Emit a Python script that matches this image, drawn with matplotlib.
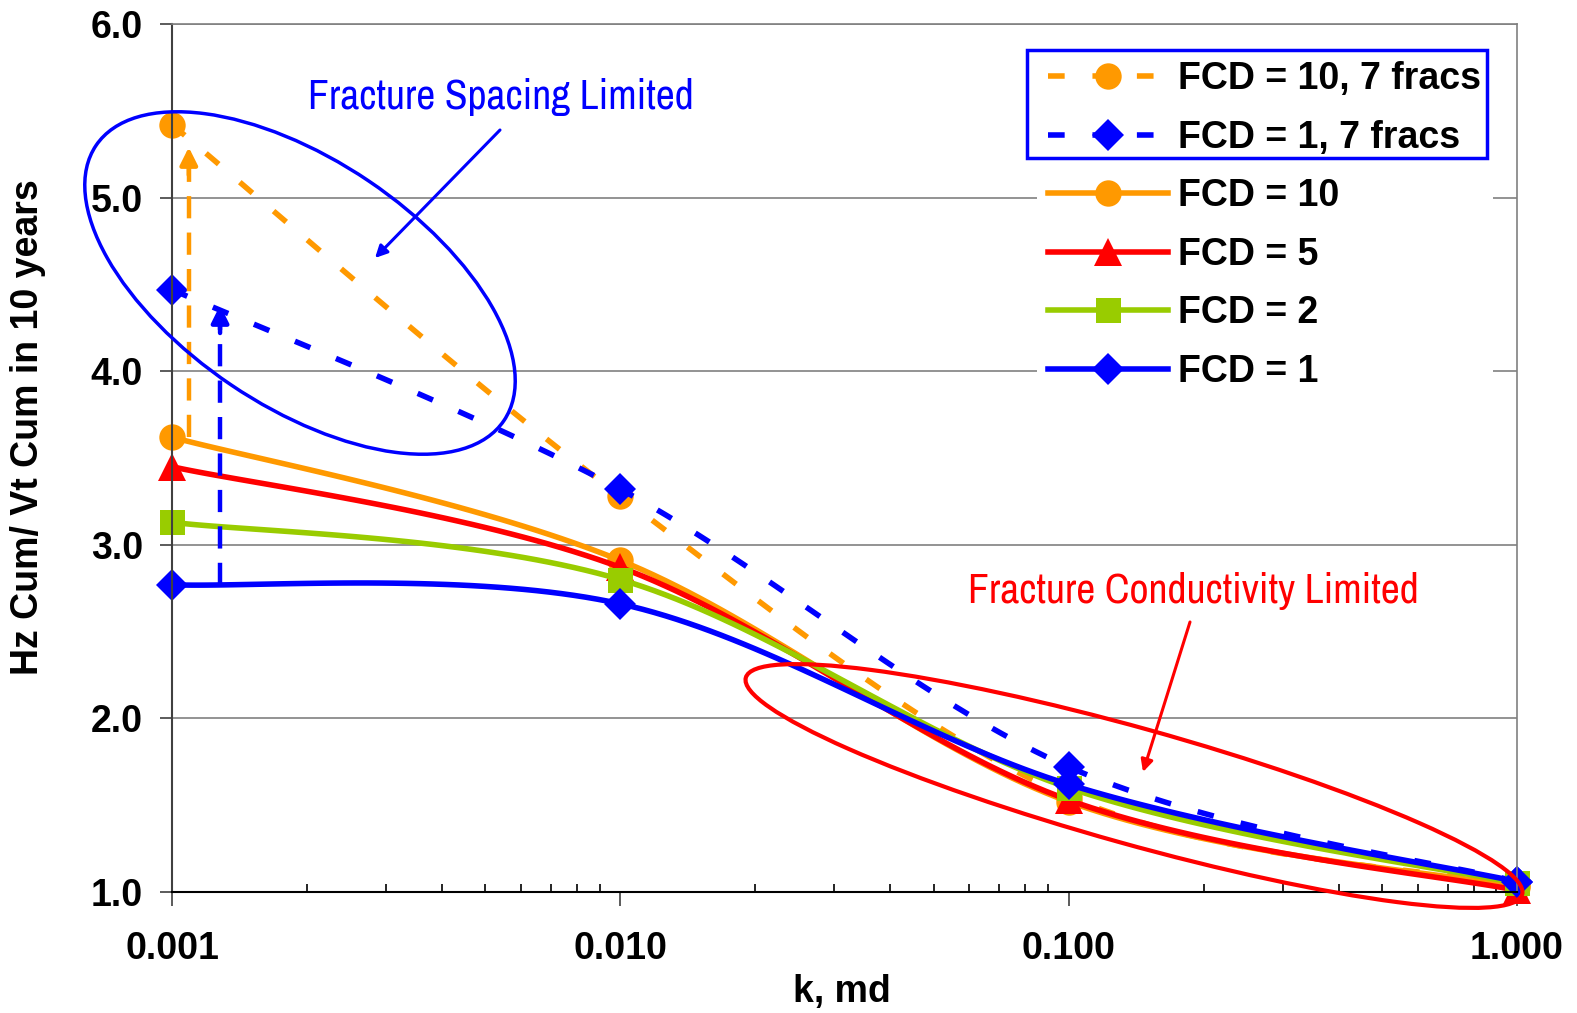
import numpy as np
import matplotlib
matplotlib.use('Agg')
import matplotlib.pyplot as plt
from matplotlib.patches import Ellipse, Rectangle
from matplotlib import font_manager

# permeability, md
k = [0.001, 0.01, 0.1, 1.0]

# Hz Cum / Vt Cum in 10 years
fcd10_7fracs = [5.42, 3.28, 1.55, 1.04]
fcd1_7fracs = [4.47, 3.32, 1.72, 1.06]
fcd10 = [3.62, 2.91, 1.52, 1.03]
fcd5 = [3.45, 2.87, 1.53, 1.01]
fcd2 = [3.13, 2.80, 1.60, 1.05]
fcd1 = [2.77, 2.66, 1.62, 1.06]

labels = ['FCD = 10, 7 fracs', 'FCD = 1, 7 fracs', 'FCD = 10', 'FCD = 5', 'FCD = 2', 'FCD = 1']
xtick_vals = [0.001, 0.01, 0.1, 1.0]
xtick_labels = ['0.001', '0.010', '0.100', '1.000']
ytick_vals = [1, 2, 3, 4, 5, 6]
ytick_labels = ['1.0', '2.0', '3.0', '4.0', '5.0', '6.0']

ORANGE = '#FF9900'
RED = '#FF0000'
GREEN = '#99CC00'
BLUE = '#0000FF'

W, H = 1577, 1013
BOLD = 'Liberation Sans'


def narrow_font():
    """Look for a narrow / condensed regular face, fall back to Liberation Sans."""
    for f in font_manager.fontManager.ttflist:
        if 'Narrow' in f.name and f.weight in (400, 'normal', 'regular') and f.style == 'normal':
            return font_manager.FontProperties(fname=f.fname), 30
    for f in font_manager.fontManager.ttflist:
        fn = f.fname.lower()
        if 'condensed' in fn and 'bold' not in fn and 'oblique' not in fn and 'italic' not in fn \
                and 'dejavusans' in fn.replace('-', ''):
            return font_manager.FontProperties(fname=f.fname), 26
    return font_manager.FontProperties(family='Liberation Sans'), 25


NARROW, NARROW_SIZE = narrow_font()
NARROW.set_size(NARROW_SIZE)


def smooth(x, y, n=40):
    """Excel-like smoothed line (Catmull-Rom in log x), returns curve and marker indices."""
    lx = np.log10(x)
    y = np.asarray(y, dtype=float)
    px = np.r_[lx[0], lx, lx[-1]]
    py = np.r_[y[0], y, y[-1]]
    t = np.linspace(0, 1, n, endpoint=False)
    xs, ys = [], []
    for i in range(1, len(lx)):
        for p, out in ((px, xs), (py, ys)):
            p0, p1, p2, p3 = p[i - 1], p[i], p[i + 1], p[i + 2]
            out.append(0.5 * (2 * p1 + (-p0 + p2) * t + (2 * p0 - 5 * p1 + 4 * p2 - p3) * t ** 2
                              + (-p0 + 3 * p1 - 3 * p2 + p3) * t ** 3))
    xs = np.r_[np.concatenate(xs), lx[-1]]
    ys = np.r_[np.concatenate(ys), y[-1]]
    return 10 ** xs, ys, [i * n for i in range(len(lx))]


fig = plt.figure(figsize=(W / 100, H / 100), dpi=100)
ax = fig.add_axes([172 / W, (H - 892) / H, (1517 - 172) / W, (892 - 24) / H])

series = [
    (fcd10_7fracs, ORANGE, 'o', 19, (0, (3, 5))),
    (fcd1_7fracs, BLUE, 'D', 16, (0, (3, 5))),
    (fcd10, ORANGE, 'o', 19, '-'),
    (fcd5, RED, '^', 20, '-'),
    (fcd2, GREEN, 's', 18, '-'),
    (fcd1, BLUE, 'D', 16, '-'),
]

handles = []
for (vals, color, marker, ms, ls), lab in zip(series, labels):
    xs, ys, idx = smooth(k, vals)
    line, = ax.plot(xs, ys, color=color, lw=4, ls=ls, marker=marker, ms=ms,
                    markevery=idx, markeredgewidth=0, label=lab, clip_on=False)
    handles.append(line)

# vertical dashed arrows at left
arrow_x = [0.00109, 0.00128]
arrow_from = [3.62, 2.77]
arrow_to = [5.29, 4.38]
for ax_x, y0, y1, color in zip(arrow_x, arrow_from, arrow_to, [ORANGE, BLUE]):
    ax.plot([ax_x, ax_x], [y0, y1 - 0.12], color=color, lw=3.2, ls=(0, (5, 3.2)))
    ax.annotate('', xy=(ax_x, y1), xytext=(ax_x, y1 - 0.16),
                arrowprops=dict(arrowstyle='-|>', color=color, lw=3.2, mutation_scale=26,
                                shrinkA=0, shrinkB=0))

ax.set_xscale('log')
ax.set_xlim(0.001, 1.0)
ax.set_ylim(1, 6)
ax.set_xticks(xtick_vals)
ax.set_xticklabels(xtick_labels)
ax.set_yticks(ytick_vals)
ax.set_yticklabels(ytick_labels)
ax.xaxis.set_minor_formatter(plt.NullFormatter())
ax.yaxis.grid(True, color='#808080', lw=1.2)
ax.set_axisbelow(True)

for lab in ax.get_xticklabels() + ax.get_yticklabels():
    lab.set_fontfamily(BOLD)
    lab.set_fontweight('bold')
    lab.set_fontsize(27)

ax.tick_params(axis='y', which='major', direction='out', length=9, width=1.2, color='#404040', pad=12)
ax.tick_params(axis='x', which='major', direction='out', length=10, width=1.2, color='#404040', pad=18)
ax.tick_params(axis='x', which='minor', direction='in', length=6, width=1.2, color='black')
ax.tick_params(axis='y', which='minor', left=False)

ax.spines['left'].set_color('#404040')
ax.spines['left'].set_linewidth(1.5)
ax.spines['bottom'].set_color('black')
ax.spines['bottom'].set_linewidth(1.5)
ax.spines['top'].set_color('#808080')
ax.spines['right'].set_color('#808080')
ax.spines['top'].set_linewidth(1.2)
ax.spines['right'].set_linewidth(1.2)

fig.text(28 / W, (H - 427) / H, 'Hz Cum/ Vt Cum in 10 years', rotation=90, ha='center', va='center',
         fontfamily=BOLD, fontweight='bold', fontsize=27)
fig.text(842 / W, (H - 992) / H, 'k, md', ha='center', va='center',
         fontfamily=BOLD, fontweight='bold', fontsize=27)

leg = ax.legend(handles, labels, loc='upper left', bbox_to_anchor=(1037 / W, 1 - 50 / H),
                bbox_transform=fig.transFigure, frameon=True, fancybox=False, framealpha=1,
                facecolor='white', edgecolor='none', borderpad=0.3, borderaxespad=0,
                labelspacing=0.6, handlelength=3.2, handletextpad=0.27,
                prop=dict(family=BOLD, weight='bold', size=27))
leg.set_zorder(5)

# blue box around the 7-frac entries
fig.add_artist(Rectangle((1027, H - 158), 460, 108, transform=None, fill=False,
                         edgecolor=BLUE, lw=2.5, zorder=6))

# circled regions
fig.add_artist(Ellipse((300, H - 283), 492, 246, angle=-34, transform=None, fill=False,
                       edgecolor=BLUE, lw=2.5, zorder=6))
fig.add_artist(Ellipse((1134, H - 786), 806, 116, angle=-15.6, transform=None, fill=False,
                       edgecolor=RED, lw=3, zorder=6))

# callouts
fig.text(501 / W, (H - 97) / H, 'Fracture Spacing Limited', ha='center', va='center',
         color=BLUE, fontproperties=NARROW)
ax.annotate('', xy=(375, H - 258), xycoords='figure pixels',
            xytext=(500, H - 130), textcoords='figure pixels', annotation_clip=False,
            arrowprops=dict(arrowstyle='-|>', color=BLUE, lw=2.2, mutation_scale=18,
                            shrinkA=0, shrinkB=0))
fig.text(1193 / W, (H - 591) / H, 'Fracture Conductivity Limited', ha='center', va='center',
         color=RED, fontproperties=NARROW)
ax.annotate('', xy=(1143, H - 772), xycoords='figure pixels',
            xytext=(1190, H - 622), textcoords='figure pixels', annotation_clip=False,
            arrowprops=dict(arrowstyle='-|>', color=RED, lw=2.2, mutation_scale=18,
                            shrinkA=0, shrinkB=0))

fig.savefig('out.png', dpi=100)
